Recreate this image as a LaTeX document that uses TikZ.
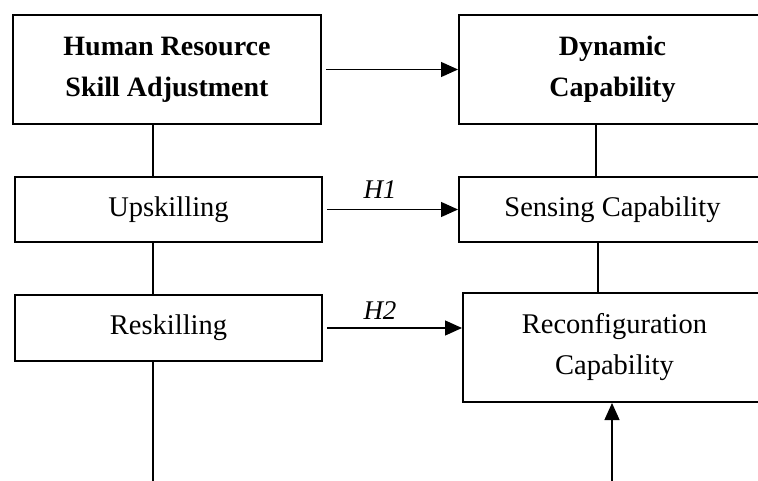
\documentclass[tikz,border=0pt]{standalone}
\usepackage{fontspec}
\setmainfont{Liberation Serif}
\usetikzlibrary{arrows.meta}
\tikzset{
  box/.style={draw, line width=2pt, inner sep=0pt, align=center, font=\fontsize{28.5}{41}\selectfont},
  bbox/.style={box, font=\fontsize{28}{41}\selectfont\bfseries},
  link/.style={line width=1.3pt},
  arr/.style={line width=1.3pt, -{Triangle[length=17pt,width=15pt]}},
  hyp/.style={font=\fontsize{27}{30}\selectfont\itshape, inner sep=0pt}
}
\begin{document}
\begin{tikzpicture}[x=1pt,y=-1pt]
\useasboundingbox (0,0) rectangle (758,481);
\clip (0,0) rectangle (758,481);
\fill[white] (0,0) rectangle (758,481);
% left column
\node[bbox, minimum width=308pt, minimum height=109pt] (hr) at (167,69.5) {Human Resource\\Skill Adjustment};
\node[box, minimum width=307pt, minimum height=65pt] (up) at (168.5,209.5) {Upskilling};
\node[box, minimum width=307pt, minimum height=66pt] (re) at (168.5,328) {Reskilling};
% right column
\node[bbox, minimum width=307pt, minimum height=109pt] (dc) at (612.5,69.5) {Dynamic\\Capability};
\node[box, minimum width=307pt, minimum height=65pt] (sc) at (612.5,209.5) {Sensing Capability};
\node[box, minimum width=303pt, minimum height=109pt] (rc) at (614.5,347.5) {Reconfiguration\\Capability};
% free ends
\coordinate (lb) at (153,481);
\coordinate (rb) at (612,481);
% vertical links
\draw[link] ([xshift=-14pt]hr.south) -- ([xshift=-15.5pt]up.north);
\draw[link] ([xshift=-15.5pt]up.south) -- ([xshift=-15.5pt]re.north);
\draw[link] ([xshift=-15.5pt]re.south) -- (lb);
\draw[link] ([xshift=-16.5pt]dc.south) -- ([xshift=-16.5pt]sc.north);
\draw[link] ([xshift=-14.5pt]sc.south) -- ([xshift=-16.5pt]rc.north);
\draw[arr] (rb) -- (rb |- rc.south);
% horizontal arrows
\draw[arr, shorten <=4pt] (hr.east) -- (dc.west);
\draw[arr, shorten <=4pt] (up.east) -- (sc.west);
\draw[arr, shorten <=4pt] (re.east) -- (re.east -| rc.west);
% labels
\node[hyp] (h1) at (380,190) {H1};
\node[hyp] (h2) at (380,311) {H2};
\end{tikzpicture}
\end{document}
